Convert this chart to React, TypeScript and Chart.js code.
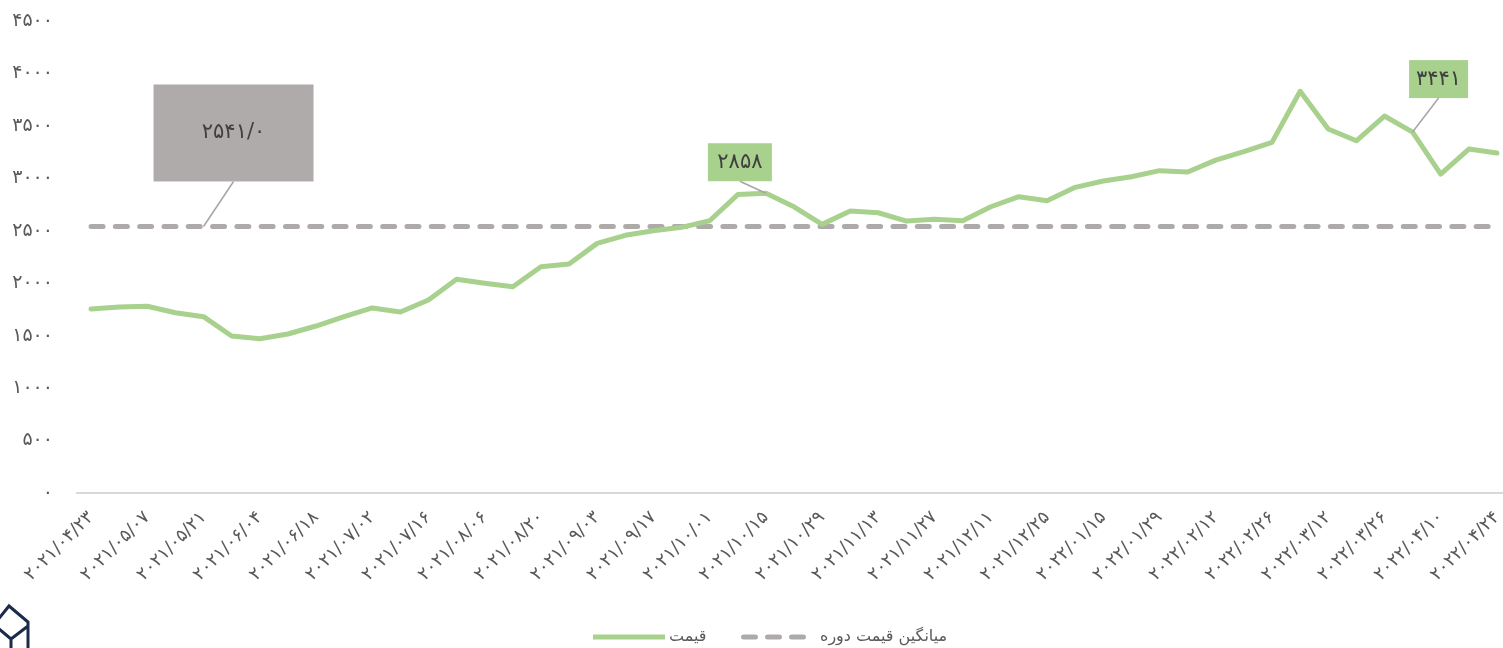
import React, { useEffect, useRef } from "react";
import { Chart, registerables } from "chart.js";

Chart.register(...registerables);

// ---------- DATA ----------
const categories = [
  "2021/04/23", "2021/04/30", "2021/05/07", "2021/05/14", "2021/05/21", "2021/05/28",
  "2021/06/04", "2021/06/11", "2021/06/18", "2021/06/25", "2021/07/02", "2021/07/09",
  "2021/07/16", "2021/07/30", "2021/08/06", "2021/08/13", "2021/08/20", "2021/08/27",
  "2021/09/03", "2021/09/10", "2021/09/17", "2021/09/24", "2021/10/01", "2021/10/08",
  "2021/10/15", "2021/10/22", "2021/10/29", "2021/11/05", "2021/11/13", "2021/11/20",
  "2021/11/27", "2021/12/04", "2021/12/11", "2021/12/18", "2021/12/25", "2022/01/08",
  "2022/01/15", "2022/01/22", "2022/01/29", "2022/02/05", "2022/02/12", "2022/02/19",
  "2022/02/26", "2022/03/05", "2022/03/12", "2022/03/19", "2022/03/26", "2022/04/02",
  "2022/04/10", "2022/04/17", "2022/04/24",
];

const priceValues = [
  1754, 1773, 1780, 1719, 1681, 1497, 1471, 1516, 1592, 1681, 1764, 1725,
  1840, 2037, 1999, 1967, 2157, 2183, 2380, 2457, 2500, 2533, 2596, 2845,
  2858, 2729, 2561, 2688, 2672, 2593, 2609, 2596, 2729, 2825, 2786, 2914,
  2974, 3015, 3073, 3060, 3174, 3254, 3343, 3830, 3470, 3358, 3594, 3441,
  3041, 3279, 3241,
];

const averageValue = 2541;

const yTickValues = [0, 500, 1000, 1500, 2000, 2500, 3000, 3500, 4000, 4500];

const seriesNames = ["قیمت", "میانگین قیمت دوره"];

const calloutTexts = ["۲۵۴۱/۰", "۲۸۵۸", "۳۴۴۱"];
const calloutIndices = [4, 24, 47];
const calloutDatasets = [1, 0, 0];

// ---------- STYLE ----------
const FONT = "'DejaVu Sans', sans-serif";
const GREEN = "#A9D18E";
const GRAY = "#AEAAAA";
const TEXT = "#595959";

const calloutStyles = [
  { dx: 30, dy: -45, w: 160, h: 97, fill: "#AFABAB" },
  { dx: -26, dy: -12, w: 64, h: 38, fill: GREEN },
  { dx: 26, dy: -34, w: 59, h: 38, fill: GREEN },
];

const faDigits = "۰۱۲۳۴۵۶۷۸۹";
const toFa = (s: string | number) =>
  String(s).replace(/\d/g, (d) => faDigits[Number(d)]);

const calloutPlugin = {
  id: "callouts",
  afterDatasetsDraw(chart: any) {
    const ctx = chart.ctx as CanvasRenderingContext2D;
    calloutTexts.forEach((text, k) => {
      const meta = chart.getDatasetMeta(calloutDatasets[k]);
      const pt = meta.data[calloutIndices[k]];
      if (!pt) return;
      const st = calloutStyles[k];
      const cx = pt.x + st.dx;
      const bottom = pt.y + st.dy;
      const top = bottom - st.h;
      ctx.save();
      ctx.strokeStyle = "#A5A5A5";
      ctx.lineWidth = 1.5;
      ctx.beginPath();
      ctx.moveTo(cx, bottom);
      ctx.lineTo(pt.x, pt.y);
      ctx.stroke();
      ctx.fillStyle = st.fill;
      ctx.fillRect(cx - st.w / 2, top, st.w, st.h);
      ctx.fillStyle = "#404040";
      ctx.font = `21px ${FONT}`;
      ctx.textAlign = "center";
      ctx.textBaseline = "middle";
      ctx.fillText(text, cx, top + st.h / 2);
      ctx.restore();
    });
  },
};

const legendPlugin = {
  id: "customLegend",
  afterDraw(chart: any) {
    const ctx = chart.ctx as CanvasRenderingContext2D;
    const y = 637;
    ctx.save();
    ctx.font = `16px ${FONT}`;
    ctx.textBaseline = "middle";
    ctx.textAlign = "left";
    // price
    ctx.strokeStyle = GREEN;
    ctx.lineWidth = 5;
    ctx.lineCap = "butt";
    ctx.beginPath();
    ctx.moveTo(593, y);
    ctx.lineTo(665, y);
    ctx.stroke();
    ctx.fillStyle = TEXT;
    ctx.fillText(seriesNames[0], 669, y);
    // average
    ctx.strokeStyle = GRAY;
    ctx.lineCap = "round";
    ctx.setLineDash([12, 12]);
    ctx.beginPath();
    ctx.moveTo(743.5, y);
    ctx.lineTo(803.5, y);
    ctx.stroke();
    ctx.setLineDash([]);
    ctx.fillText(seriesNames[1], 820, y);
    // logo
    ctx.strokeStyle = "#1C2B4B";
    ctx.lineWidth = 3;
    ctx.lineCap = "butt";
    ctx.lineJoin = "miter";
    ctx.beginPath();
    ctx.moveTo(-4, 622);
    ctx.lineTo(9, 606);
    ctx.lineTo(28, 622);
    ctx.lineTo(28, 650);
    ctx.moveTo(-2, 628);
    ctx.lineTo(11, 639);
    ctx.lineTo(28, 626);
    ctx.moveTo(11, 639);
    ctx.lineTo(11, 650);
    ctx.stroke();
    ctx.restore();
  },
};

export default function App() {
  const ref = useRef<HTMLCanvasElement | null>(null);

  useEffect(() => {
    if (!ref.current) return;
    const chart = new Chart(ref.current, {
      type: "line",
      data: {
        labels: categories,
        datasets: [
          {
            label: seriesNames[0],
            data: priceValues,
            borderColor: GREEN,
            backgroundColor: GREEN,
            borderWidth: 5,
            pointRadius: 0,
            tension: 0,
            borderJoinStyle: "round",
            borderCapStyle: "round",
          },
          {
            label: seriesNames[1],
            data: categories.map(() => averageValue),
            borderColor: GRAY,
            backgroundColor: GRAY,
            borderWidth: 5,
            borderDash: [12, 12.3],
            borderCapStyle: "round",
            pointRadius: 0,
            tension: 0,
          },
        ],
      },
      options: {
        responsive: false,
        animation: false,
        layout: { padding: { top: 21, left: 0, right: 9, bottom: 0 } },
        plugins: {
          legend: { display: false },
          tooltip: { enabled: false },
        },
        scales: {
          x: {
            offset: true,
            grid: { display: false, drawTicks: false },
            border: { display: true, color: "#D9D9D9", width: 2 },
            ticks: {
              autoSkip: false,
              minRotation: 45,
              maxRotation: 45,
              padding: 14,
              color: TEXT,
              font: { family: FONT, size: 18 },
              callback: (_v: any, idx: number) =>
                idx % 2 === 0 ? toFa(categories[idx]) : "",
            },
            afterFit: (scale: any) => {
              scale.height = 155;
              scale.paddingLeft = 0;
              scale.paddingRight = 0;
            },
          },
          y: {
            min: 0,
            max: 4500,
            grid: { display: false, drawTicks: false },
            border: { display: false },
            afterBuildTicks: (scale: any) => {
              scale.ticks = yTickValues.map((v) => ({ value: v }));
            },
            ticks: {
              padding: 24,
              color: TEXT,
              font: { family: FONT, size: 19 },
              callback: (v: any) => toFa(v),
            },
            afterFit: (scale: any) => {
              scale.width = 77;
              scale.paddingTop = 0;
              scale.paddingBottom = 0;
            },
          },
        },
      },
      plugins: [calloutPlugin, legendPlugin],
    });
    return () => chart.destroy();
  }, []);

  return (
    <div
      style={{
        position: "absolute",
        left: 0,
        top: 0,
        width: 1503,
        height: 648,
        overflow: "hidden",
        background: "#fff",
      }}
    >
      <canvas ref={ref} width={1520} height={648} style={{ display: "block" }} />
    </div>
  );
}
